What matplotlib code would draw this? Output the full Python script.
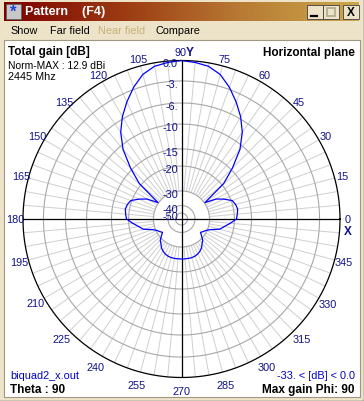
import numpy as np
import matplotlib
matplotlib.use('Agg')
import matplotlib.pyplot as plt
from matplotlib.patches import Rectangle
from matplotlib.colors import LinearSegmentedColormap

plt.rcParams['font.family'] = ['Liberation Sans', 'DejaVu Sans']

# ---------------- data ----------------
phi_deg = list(range(0, 360, 5))
gain_db = [-19.4, -19.1, -18.8, -19.1, -19.7, -22.4, -25.2, -29.8,   # 0..35
           -19.4, -14.6, -10.8, -7.9, -5.7, -4.2, -2.7, -1.3,        # 40..75
           -0.5, -0.2, 0.0, -0.2, -0.5, -1.3, -2.7, -4.2,            # 80..115
           -5.7, -7.9, -10.8, -14.6, -19.4, -29.8, -25.2, -22.4,     # 120..155
           -19.7, -19.1, -18.8, -19.1, -19.4, -21.6, -23.8, -25.4,   # 160..195
           -28.8, -30.7, -32.0, -33.3, -31.3, -29.2, -28.4, -27.2,   # 200..235
           -26.4, -25.8, -25.4, -25.2, -25.2, -25.2, -25.2, -25.2,   # 240..275
           -25.2, -25.2, -25.4, -25.8, -26.4, -27.2, -28.4, -29.2,   # 280..315
           -31.3, -33.3, -32.0, -30.7, -28.8, -25.4, -23.8, -21.6]   # 320..355

ring_db = [0, -3, -6, -10, -15, -20, -30, -40, -50]
ring_labels = ['0.0', '-3.', '-6.', '-10', '-15', '-20', '-30', '-40', '-50']
angle_ticks = list(range(0, 360, 15))
spoke_angles = list(range(0, 360, 5))

# radial scale of the chart (dB -> relative radius), read from the rings
scale_db = [-60, -50, -40, -30, -20, -15, -10, -6, -3, 0, 10]
scale_r = [0.0, 0.038, 0.085, 0.177, 0.334, 0.442, 0.599, 0.732, 0.871, 1.0, 1.3]

def fwd(d):
    return np.interp(d, scale_db, scale_r)

def inv(r):
    return np.interp(r, scale_r, scale_db)

# ---------------- figure ----------------
W, H = 364, 402
fig = plt.figure(figsize=(W / 100, H / 100), dpi=100)
beige = '#ECE3C8'
fig.patch.set_facecolor(beige)
FS = 7.8
navy = '#10108c'

bg = fig.add_axes([0, 0, 1, 1])
bg.set_xlim(0, W)
bg.set_ylim(H, 0)
bg.axis('off')

# title bar gradient
cmap = LinearSegmentedColormap.from_list('tb', ['#7c0000', '#9c3a12', '#b87a34', '#cba94c'])
bg.imshow(np.linspace(0, 1, 256)[None, :], extent=[4, 359, 21.5, 3], cmap=cmap,
          aspect='auto', zorder=1)
bg.set_xlim(0, W)
bg.set_ylim(H, 0)

# icon
bg.add_patch(Rectangle((6, 4.5), 15, 15, facecolor='#c8c8c8', edgecolor='#606060', lw=0.6, zorder=2))
bg.text(13.5, 12, '*', color='#2040e0', fontsize=12, fontweight='bold', ha='center', va='center', zorder=3)
bg.text(25, 12.3, 'Pattern    (F4)', color='white', fontsize=9, fontweight='bold',
        ha='left', va='center', zorder=3)

# title buttons
for (x0, w) in [(307, 16), (323, 16), (342.5, 16)]:
    bg.add_patch(Rectangle((x0, 5.5), w, 14, facecolor='#ECE3C8', edgecolor='#404040', lw=0.6, zorder=2))
bg.plot([311, 317], [16.5, 16.5], color='black', lw=1.6, zorder=3)
bg.add_patch(Rectangle((327, 8.5), 8, 8, facecolor='none', edgecolor='#b0a890', lw=1.2, zorder=3))
bg.text(350.5, 12.8, 'X', color='black', fontsize=8.5, fontweight='bold', ha='center', va='center', zorder=3)

# menu
menu = [('Show', 10.5, 'black'), ('Far field', 49.5, 'black'),
        ('Near field', 98.5, '#c8b07a'), ('Compare', 155.5, 'black')]
for t, x, c in menu:
    bg.text(x, 31.5, t, color=c, fontsize=FS, ha='left', va='center', zorder=3)

# white plot area
bg.add_patch(Rectangle((3.5, 40.5), 356, 357, facecolor='white', edgecolor='#a09880', lw=0.8, zorder=1))
# outer window edges
bg.plot([363.5, 363.5], [0, H], color='#404040', lw=1)
bg.plot([0, W], [401.5, 401.5], color='#404040', lw=1)

# corner texts
bg.text(8, 52.5, 'Total gain [dB]', fontsize=8.5, fontweight='bold', ha='left', va='center')
bg.text(8, 66, 'Norm-MAX : 12.9 dBi', fontsize=7.4, ha='left', va='center')
bg.text(8, 76.5, '2445 Mhz', fontsize=FS, ha='left', va='center')
bg.text(355, 53, 'Horizontal plane', fontsize=8.5, fontweight='bold', ha='right', va='center')
bg.text(10, 376, 'biquad2_x.out', fontsize=FS, color='#0000c8', ha='left', va='center')
bg.text(10, 390.5, 'Theta : 90', fontsize=8.5, fontweight='bold', ha='left', va='center')
bg.text(355, 376, '-33. < [dB] < 0.0', fontsize=FS, color='#0000c8', ha='right', va='center')
bg.text(355, 390.5, 'Max gain Phi: 90', fontsize=8.5, fontweight='bold', ha='right', va='center')

# ---------------- polar chart ----------------
cx, cy, R = 181.5, 220.0, 158.5
ax = fig.add_axes([(cx - R) / W, (H - cy - R) / H, 2 * R / W, 2 * R / H], projection='polar')
ax.set_rscale('function', functions=(fwd, inv))
ax.set_rlim(-60, 0)
ax.grid(False)
ax.set_xticks([])
ax.set_yticks([])
ax.spines['polar'].set_visible(False)
ax.set_facecolor('none')

theta_fine = np.linspace(0, 2 * np.pi, 721)
for d in ring_db:
    if d == 0:
        ax.plot(theta_fine, np.full_like(theta_fine, d), color='black', lw=0.9, zorder=3, clip_on=False)
    else:
        ax.plot(theta_fine, np.full_like(theta_fine, d), color='#a8a8a8', lw=0.8, zorder=2)

for a in spoke_angles:
    t = np.deg2rad(a)
    ax.plot([t, t], [-30, 0], color='#cfcfcf', lw=0.7, zorder=1)

for a in [0, 90, 180, 270]:
    t = np.deg2rad(a)
    ax.plot([t, t], [-60, 0], color='black', lw=0.9, zorder=4)

# pattern
th = np.deg2rad(phi_deg + [phi_deg[0]])
g = gain_db + [gain_db[0]]
ax.plot(th, g, color='#0000ff', lw=0.9, zorder=5)

# dB ring labels
for d, lab in zip(ring_db, ring_labels):
    ax.annotate(lab, xy=(np.pi / 2, d), xytext=(-3.5, -3), textcoords='offset pixels',
                ha='right', va='center', fontsize=FS, color=navy,
                annotation_clip=False, zorder=6)

# angle labels
for a in angle_ticks:
    t = np.deg2rad(a)
    s = np.sin(t)
    dist = 7.5 + (-6 * s if s < 0 else 0)
    if a == 90:
        ax.annotate('90', xy=(t, 0), xytext=(-1.5, 8), textcoords='offset pixels',
                    ha='center', va='center', fontsize=FS, color=navy, annotation_clip=False)
        ax.annotate('Y', xy=(t, 0), xytext=(4.5, 8.5), textcoords='offset pixels',
                    ha='left', va='center', fontsize=8.5, fontweight='bold', color=navy,
                    annotation_clip=False)
        continue
    ax.annotate(str(a), xy=(t, 0), xytext=(dist * np.cos(t), dist * s), textcoords='offset pixels',
                ha='center', va='center', fontsize=FS, color=navy, annotation_clip=False)
    if a == 0:
        ax.annotate('X', xy=(t, 0), xytext=(8, -12), textcoords='offset pixels',
                    ha='center', va='center', fontsize=8.5, fontweight='bold', color=navy,
                    annotation_clip=False)

fig.savefig('out.png', dpi=100, facecolor=fig.get_facecolor())
